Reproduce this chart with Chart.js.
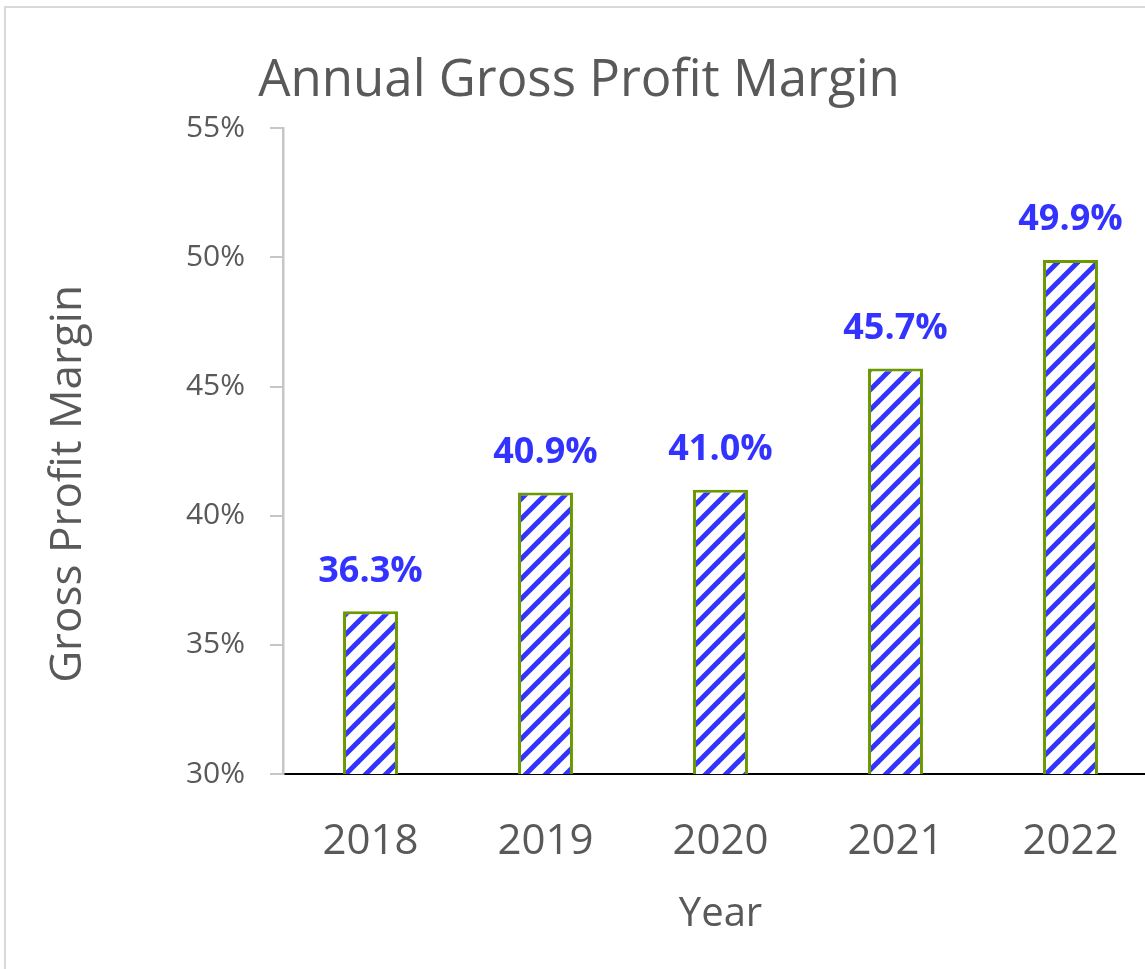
<!DOCTYPE html>
<html>
<head>
<meta charset="utf-8">
<script src="https://cdn.jsdelivr.net/npm/chart.js@4"></script>
<style>
    body { margin: 0; overflow: hidden; background: #fff; }
    #frame {
        position: absolute; left: 4px; top: 6px;
        width: 1200px; height: 1000px;
        border: 2px solid #d9d9d9;
    }
    #chart { position: absolute; left: 0; top: 0; }
</style>
</head>
<body>
<div id="frame"></div>
<canvas id="chart" width="1176" height="969"></canvas>
<script>
// data
const years = ['2018', '2019', '2020', '2021', '2022'];
const margins = [36.3, 40.9, 41.0, 45.7, 49.9];
const yTicks = [30, 35, 40, 45, 50, 55];

const textGrey = '#595959';
const labelBlue = '#3333ff';

// diagonal blue/white hatch like the excel fill
function hatchPattern() {
    const size = 20;
    const c = document.createElement('canvas');
    c.width = size;
    c.height = size;
    const g = c.getContext('2d');
    g.fillStyle = '#ffffff';
    g.fillRect(0, 0, size, size);
    g.strokeStyle = labelBlue;
    g.lineWidth = 5;
    // lines run past the tile so the stripes join up seamlessly
    for (const off of [-size, 0, size]) {
        g.beginPath();
        g.moveTo(off - size, 2 * size);
        g.lineTo(off + 2 * size, -size);
        g.stroke();
    }
    return g.createPattern(c, 'repeat');
}

const valueLabels = {
    id: 'valueLabels',
    afterDatasetsDraw(chart) {
        const ctx = chart.ctx;
        const meta = chart.getDatasetMeta(0);
        ctx.save();
        ctx.font = 'bold 36px "Open Sans"';
        ctx.fillStyle = labelBlue;
        ctx.textAlign = 'center';
        ctx.textBaseline = 'middle';
        meta.data.forEach((bar, i) => {
            ctx.fillText(margins[i].toFixed(1) + '%', bar.x, bar.y - 40);
        });
        ctx.restore();
    }
};

const yTitle = {
    id: 'yTitle',
    afterDraw(chart) {
        const ctx = chart.ctx;
        ctx.save();
        ctx.translate(68, 484);
        ctx.rotate(-Math.PI / 2);
        ctx.font = '44px "Open Sans"';
        ctx.fillStyle = textGrey;
        ctx.textAlign = 'center';
        ctx.textBaseline = 'middle';
        ctx.fillText('Gross Profit Margin', 0, 0);
        ctx.restore();
    }
};

const ctx = document.getElementById('chart').getContext('2d');
const chart = new Chart(ctx, {
    type: 'bar',
    data: {
        labels: years,
        datasets: [{
            label: 'Gross Profit Margin',
            data: margins,
            backgroundColor: hatchPattern(),
            borderColor: '#6b9a00',
            borderWidth: 3,
            categoryPercentage: 1,
            barPercentage: 0.314
        }]
    },
    options: {
        responsive: false,
        animation: false,
        layout: { padding: { left: 0, right: 18, top: 0, bottom: 0 } },
        plugins: {
            legend: { display: false },
            tooltip: { enabled: false },
            title: {
                display: true,
                text: 'Annual Gross Profit Margin',
                color: textGrey,
                font: { family: 'Open Sans', size: 51, weight: 'normal' },
                padding: { top: 51, bottom: 16 }
            }
        },
        scales: {
            x: {
                afterFit: s => { s.height = 195; },
                grid: { display: false },
                border: { display: true, color: '#000000', width: 2 },
                ticks: {
                    color: textGrey,
                    font: { family: 'Open Sans', size: 42 },
                    padding: 35
                },
                title: {
                    display: true,
                    text: 'Year',
                    color: textGrey,
                    font: { family: 'Open Sans', size: 40 },
                    padding: { top: 0, bottom: 30 }
                }
            },
            y: {
                min: yTicks[0],
                max: yTicks[yTicks.length - 1],
                afterFit: s => { s.width = 283; },
                afterBuildTicks: s => { s.ticks = yTicks.map(v => ({ value: v })); },
                grid: {
                    drawOnChartArea: false,
                    drawTicks: true,
                    tickLength: 13,
                    color: '#c6c6c6',
                    lineWidth: 2
                },
                border: { display: true, color: '#c6c6c6', width: 2.5 },
                ticks: {
                    color: textGrey,
                    font: { family: 'Open Sans', size: 30 },
                    padding: 25,
                    callback: v => v + '%'
                }
            }
        }
    },
    plugins: [valueLabels, yTitle]
});
</script>
</body>
</html>
